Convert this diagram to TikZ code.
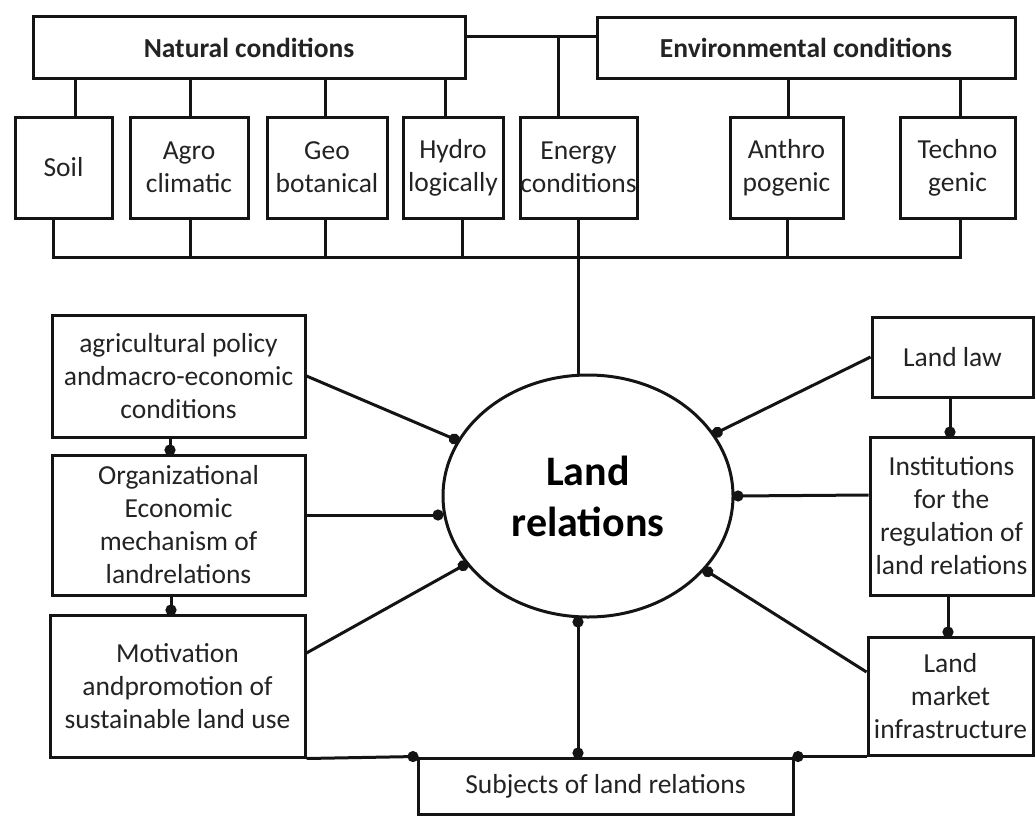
\documentclass[tikz,border=0pt]{standalone}
\usepackage{fontspec}
\setmainfont{Carlito}
\usetikzlibrary{shapes.geometric,arrows.meta}
\definecolor{txt}{RGB}{35,35,35}
\definecolor{ln}{RGB}{20,20,20}
\begin{document}
\begin{tikzpicture}[x=1pt,y=-1pt,
  box/.style={draw=ln, line width=3pt, align=center, inner sep=0pt, text=txt,
    font=\fontsize{27.5}{33}\selectfont},
  title/.style={box, font=\bfseries\fontsize{27.5}{33}\selectfont},
  conn/.style={draw=ln, line width=3pt},
  dotarrow/.style={conn, -{Circle[length=11pt,width=11pt]}, shorten >=-2pt},
  dotboth/.style={conn, {Circle[length=11pt,width=11pt]}-{Circle[length=11pt,width=11pt]}, shorten >=-2pt, shorten <=-2pt}]
\useasboundingbox (0,0) rectangle (1035,816);
% top row
\node[title, minimum width=432, minimum height=61] (nat) at (249,47.5) {Natural conditions};
\node[title, minimum width=418, minimum height=60] (env) at (806,48) {Environmental conditions};
\node[box, minimum width=97, minimum height=101] (soil) at (63.5,167.5) {Soil};
\node[box, minimum width=118, minimum height=101] (agro) at (189,167.5) {Agro\\climatic};
\node[box, minimum width=120, minimum height=101] (geo) at (327,167.5) {Geo\\botanical};
\node[box, minimum width=100, minimum height=101] (hydro) at (453,167.5) {Hydro\\logically};
\node[box, minimum width=117, minimum height=101] (energy) at (578.5,167.5) {Energy\\conditions};
\node[box, minimum width=113, minimum height=101] (anthro) at (786.5,167.5) {Anthro\\pogenic};
\node[box, minimum width=115, minimum height=101] (techno) at (957.5,167.5) {Techno\\genic};
% central ellipse
\node[ellipse, draw=ln, line width=3pt, minimum width=290, minimum height=242, inner sep=0pt,
  align=center, text=black, font=\bfseries\fontsize{42}{51}\selectfont] (land) at (588,496) {Land\\relations};
% left column
\node[box, minimum width=253, minimum height=122] (agri) at (178.5,376) {agricultural policy\\andmacro-economic\\conditions};
\node[box, minimum width=253, minimum height=140] (org) at (178.5,525) {Organizational\\Economic\\mechanism of\\landrelations};
\node[box, minimum width=255, minimum height=142] (motiv) at (177.5,686) {Motivation\\andpromotion of\\sustainable land use};
% right column
\node[box, minimum width=161, minimum height=80] (law) at (952.5,357) {Land law};
\node[box, minimum width=163, minimum height=158] (inst) at (951.5,516) {Institutions\\for the\\regulation of\\land relations};
\node[box, minimum width=165, minimum height=118] (market) at (950.5,696) {Land\\market\\infrastructure};
% bottom
\node[box, minimum width=375, minimum height=56] (subj) at (605.5,786) {Subjects of land relations};
% top connectors
\coordinate (nj) at (558,37);
\draw[conn] (nat.east |- nj) -- (env.west |- nj);
\draw[conn] (nj) -- (nj |- energy.north);
\draw[conn] ([xshift=11.5]soil.north) -- ([xshift=11.5]soil.north |- nat.south);
\draw[conn] ([xshift=1]agro.north) -- ([xshift=1]agro.north |- nat.south);
\draw[conn] ([xshift=-2]geo.north) -- ([xshift=-2]geo.north |- nat.south);
\draw[conn] ([xshift=-8]hydro.north) -- ([xshift=-8]hydro.north |- nat.south);
\draw[conn] ([xshift=1.5]anthro.north) -- ([xshift=1.5]anthro.north |- env.south);
\draw[conn] ([xshift=2.5]techno.north) -- ([xshift=2.5]techno.north |- env.south);
% bottom bus of the top row
\coordinate (busR) at (960,257);
\draw[conn] ([xshift=-10.5]soil.south) |- (busR) -- ([xshift=2.5]techno.south);
\draw[conn] ([xshift=1]agro.south) -- ([xshift=1]agro.south |- busR);
\draw[conn] ([xshift=-2]geo.south) -- ([xshift=-2]geo.south |- busR);
\draw[conn] ([xshift=9]hydro.south) -- ([xshift=9]hydro.south |- busR);
\draw[conn] ([xshift=0.5]anthro.south) -- ([xshift=0.5]anthro.south |- busR);
\draw[conn] (energy.south) -- (energy.south |- land.north);
% left column links
\draw[dotarrow] ([xshift=-8.5]agri.south) -- ([xshift=-8.5]org.north);
\draw[dotarrow] ([xshift=-7.5]org.south) -- ([xshift=-7.5]org.south |- motiv.north);
\draw[dotarrow] (agri.east) -- (land);
\draw[dotarrow] ([yshift=10]org.east) -- ([yshift=10]org.east -| land.west);
\draw[dotarrow] ([yshift=33]motiv.east) -- (land);
% right column links
\draw[dotarrow] ([xshift=-2.5]law.south) -- ([xshift=-2.5]law.south |- inst.north);
\draw[dotarrow] ([xshift=-3.5]inst.south) -- ([xshift=-3.5]inst.south |- market.north);
\draw[dotarrow] (law.west) -- (land);
\draw[dotarrow] ([yshift=21]inst.west) -- (land.east);
\draw[dotarrow] ([yshift=24]market.west) -- (land);
% bottom links
\draw[dotboth] ([xshift=-10]land.south) -- ([xshift=-10]land.south |- subj.north);
\draw[dotarrow] (motiv.south east) -- (subj.north west);
\draw[dotarrow] (market.south west) -- (subj.north east);
\end{tikzpicture}
\end{document}
